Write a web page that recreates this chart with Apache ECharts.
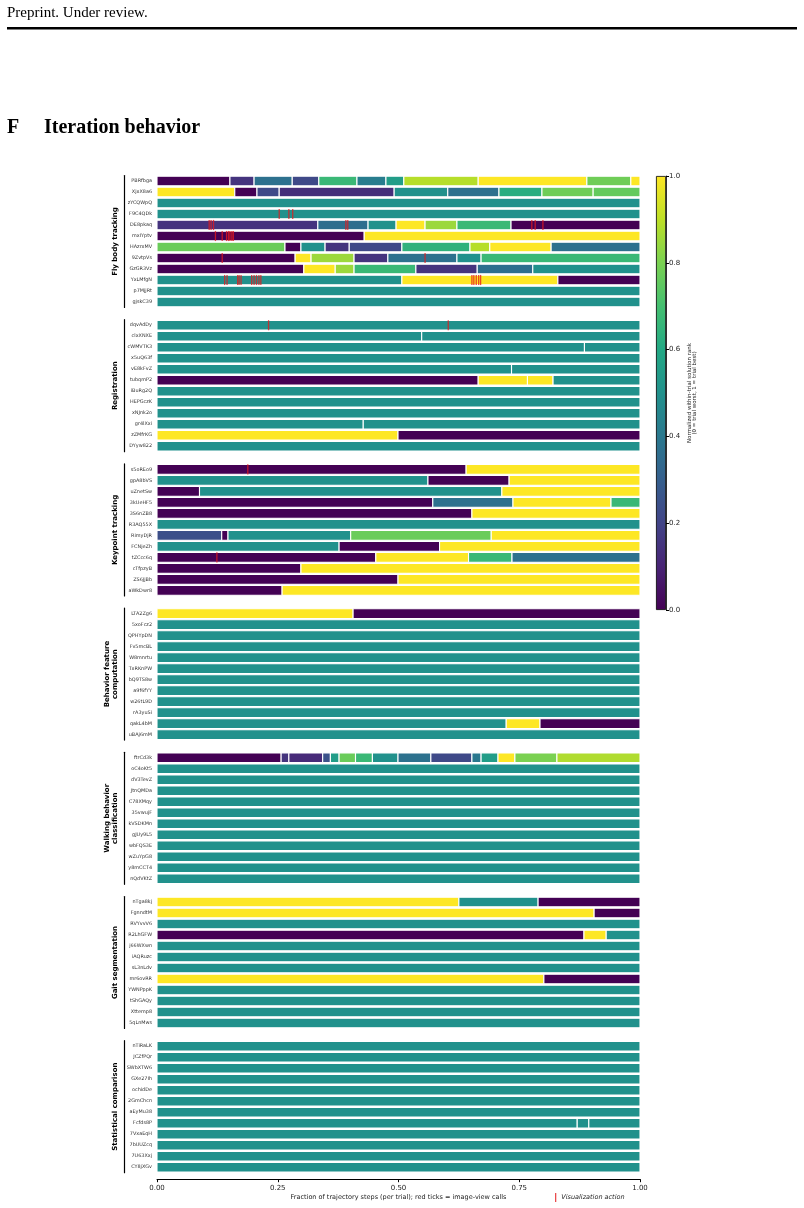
<!DOCTYPE html>
<html>
<head>
<meta charset="utf-8">
<script src="https://cdn.jsdelivr.net/npm/echarts@6/dist/echarts.min.js"></script>
<style>
html, body { margin: 0; padding: 0; background: #fff; }
#chart { width: 804px; height: 1208px; }
</style>
</head>
<body>
<div id="chart"></div>
<script>
// each row: list of [segment end fraction, normalized rank], segments start where the previous ended
const flyNames = ['PBRfbga', 'XjxX8a6', 'zYCQWpQ', 'F9C4QDk', 'DE8pkaq', 'mxIYptv', 'HAzrxMV', '9ZvtpVs', 'GzGR3Vz', 'YxLMfgN', 'p7MjjRt', 'gjskC39'];
const flySegs = [
  [[0.151, 0], [0.201, 0.15], [0.280, 0.37], [0.335, 0.22], [0.414, 0.67], [0.474, 0.42], [0.511, 0.55], [0.665, 0.89], [0.890, 1], [0.981, 0.78], [1, 1]],
  [[0.161, 1], [0.207, 0], [0.253, 0.22], [0.491, 0.13], [0.602, 0.5], [0.708, 0.37], [0.797, 0.62], [0.903, 0.78], [1, 0.76]],
  [[1, 0.5]],
  [[1, 0.5]],
  [[0.333, 0.15], [0.437, 0.36], [0.495, 0.5], [0.555, 1], [0.621, 0.85], [0.733, 0.67], [1, 0]],
  [[0.429, 0], [1, 1]],
  [[0.265, 0.77], [0.298, 0], [0.348, 0.5], [0.398, 0.15], [0.507, 0.22], [0.648, 0.64], [0.689, 0.89], [0.816, 1], [1, 0.37]],
  [[0.286, 0], [0.319, 1], [0.408, 0.85], [0.478, 0.15], [0.621, 0.37], [0.671, 0.5], [1, 0.67]],
  [[0.304, 0], [0.369, 1], [0.408, 0.85], [0.536, 0.67], [0.663, 0.15], [0.778, 0.36], [1, 0.5]],
  [[0.507, 0.5], [0.830, 1], [1, 0]],
  [[1, 0.5]],
  [[1, 0.5]]
];
const flyTicks = [[], [], [],
  [0.253, 0.273, 0.281],
  [0.108, 0.112, 0.117, 0.391, 0.395, 0.776, 0.783, 0.799],
  [0.121, 0.135, 0.144, 0.148, 0.151, 0.155, 0.158],
  [],
  [0.135, 0.555],
  [],
  [0.140, 0.145, 0.167, 0.170, 0.174, 0.196, 0.201, 0.206, 0.211, 0.215, 0.652, 0.656, 0.661, 0.666, 0.670],
  [], []];

const regNames = ['dqvAdDy', 'clxXNXE', 'cWMVTK3', 'x5uQ63f', 'vE8kFvZ', 'tubqmP2', 'iBuRg2Q', 'HEPGczK', 'xNJnk2o', 'gr4lXxi', 'zZMfrKG', 'DYyw822'];
const regSegs = [
  [[1, 0.5]],
  [[0.548, 0.5], [1, 0.5]],
  [[0.885, 0.5], [1, 0.5]],
  [[1, 0.5]],
  [[0.734, 0.5], [1, 0.5]],
  [[0.665, 0], [0.767, 1], [0.820, 1], [1, 0.5]],
  [[1, 0.5]],
  [[1, 0.5]],
  [[1, 0.5]],
  [[0.427, 0.5], [1, 0.5]],
  [[0.499, 1], [1, 0]],
  [[1, 0.5]]
];
const regTicks = [[0.231, 0.603], [], [], [], [], [], [], [], [], [], [], []];

const kptNames = ['s5oREo9', 'gpA8bVS', 'uZnetSw', '3kUeHF5', '3S6nZB8', 'R3AQ55X', 'RimyDjR', 'FCNjeZh', 'tZCcc6q', 'cTfpzyB', 'ZS6JjBb', 'aWkDwr8'];
const kptSegs = [
  [[0.640, 0], [1, 1]],
  [[0.561, 0.5], [0.729, 0], [1, 1]],
  [[0.088, 0], [0.714, 0.5], [1, 1]],
  [[0.571, 0], [0.737, 0.37], [0.940, 1], [1, 0.67]],
  [[0.652, 0], [1, 1]],
  [[1, 0.5]],
  [[0.134, 0.24], [0.147, 0], [0.401, 0.5], [0.692, 0.77], [1, 1]],
  [[0.377, 0.5], [0.585, 0], [1, 1]],
  [[0.453, 0], [0.645, 1], [0.735, 0.67], [1, 0.37]],
  [[0.298, 0], [1, 1]],
  [[0.499, 0], [1, 1]],
  [[0.259, 0], [1, 1]]
];
const kptTicks = [[0.188], [], [], [], [], [], [], [], [0.124], [], [], []];

const behNames = ['LTA2Zg6', '5xoFcz2', 'QPHYpDN', 'Fv5mcBL', 'W8mnrtu', 'TxRKnPW', 'bQ9TS8w', 'a9f6fYY', 'w26tL9D', 'rA3yuSi', 'qakL4bM', 'uBAj6mM'];
const behSegs = [
  [[0.406, 1], [1, 0]],
  [[1, 0.5]], [[1, 0.5]], [[1, 0.5]], [[1, 0.5]], [[1, 0.5]],
  [[1, 0.5]], [[1, 0.5]], [[1, 0.5]], [[1, 0.5]],
  [[0.723, 0.5], [0.793, 1], [1, 0]],
  [[1, 0.5]]
];
const behTicks = [[], [], [], [], [], [], [], [], [], [], [], []];

const walkNames = ['ftrCd3k', 'oC4oKt5', 'dV3TevZ', 'JtnQMDa', 'C78XMqy', '35vwujF', 'kVSDKMn', 'gJUy9L5', 'wbFQS3E', 'wZuYpG8', 'y8mCCT4', 'nQdVKtZ'];
const walkSegs = [
  [[0.257, 0], [0.273, 0.15], [0.343, 0.12], [0.359, 0.25], [0.377, 0.55], [0.411, 0.77], [0.446, 0.67], [0.499, 0.5], [0.567, 0.37], [0.652, 0.22], [0.671, 0.4], [0.706, 0.55], [0.741, 1], [0.828, 0.8], [1, 0.88]],
  [[1, 0.5]], [[1, 0.5]], [[1, 0.5]], [[1, 0.5]], [[1, 0.5]], [[1, 0.5]],
  [[1, 0.5]], [[1, 0.5]], [[1, 0.5]], [[1, 0.5]], [[1, 0.5]]
];
const walkTicks = [[], [], [], [], [], [], [], [], [], [], [], []];

const gaitNames = ['nTga8kj', 'FgnndtM', 'RVYvvV6', 'R2LhGFW', 'j66WXwn', 'iAQRuzc', 'sL3nLdv', 'mr6ovRR', 'YWNPppK', 'tShGAQy', 'Xttemp8', '5qLnMws'];
const gaitSegs = [
  [[0.625, 1], [0.789, 0.5], [1, 0]],
  [[0.905, 1], [1, 0]],
  [[1, 0.5]],
  [[0.884, 0], [0.930, 1], [1, 0.5]],
  [[1, 0.5]], [[1, 0.5]], [[1, 0.5]],
  [[0.801, 1], [1, 0]],
  [[1, 0.5]], [[1, 0.5]], [[1, 0.5]], [[1, 0.5]]
];
const gaitTicks = [[], [], [], [], [], [], [], [], [], [], [], []];

const statNames = ['nTiRaLK', 'JCZfPQr', 'SWbXTW6', 'GXe27Ih', 'ochidDe', '2GmChcn', 'aEyMu38', 'Fcfds8P', '7VxaEqH', '7bUUZcq', '7U63Xxj', 'CY8jXGv'];
const statSegs = [
  [[1, 0.5]], [[1, 0.5]], [[1, 0.5]], [[1, 0.5]], [[1, 0.5]], [[1, 0.5]], [[1, 0.5]],
  [[0.870, 0.5], [0.894, 0.5], [1, 0.5]],
  [[1, 0.5]], [[1, 0.5]], [[1, 0.5]], [[1, 0.5]]
];
const statTicks = [[], [], [], [], [], [], [], [], [], [], [], []];

const groupTitles = ['Fly body tracking', 'Registration', 'Keypoint tracking', 'Behavior feature\ncomputation', 'Walking behavior\nclassification', 'Gait segmentation', 'Statistical comparison'];
const cbTicks = [0, 0.2, 0.4, 0.6, 0.8, 1];

const groups = [
  [flyNames, flySegs, flyTicks],
  [regNames, regSegs, regTicks],
  [kptNames, kptSegs, kptTicks],
  [behNames, behSegs, behTicks],
  [walkNames, walkSegs, walkTicks],
  [gaitNames, gaitSegs, gaitTicks],
  [statNames, statSegs, statTicks]
];

const viridisStops = ['#440154', '#482475', '#414487', '#355f8d', '#2a788e', '#21918c', '#22a884', '#44bf70', '#7ad151', '#bddf26', '#fde725'];
function hex(c) { return [1, 3, 5].map(i => parseInt(c.substr(i, 2), 16)); }
function viridis(v) {
  const t = Math.max(0, Math.min(1, v)) * 10;
  const i = Math.min(9, Math.floor(t));
  const f = t - i;
  const a = hex(viridisStops[i]), b = hex(viridisStops[i + 1]);
  const c = a.map((x, k) => Math.round(x + (b[k] - x) * f));
  return 'rgb(' + c.join(',') + ')';
}

const font = 'DejaVu Sans';
const tickColor = 'rgba(228,26,28,0.78)';

function renderSeg(params, api) {
  const row = api.value(0);
  const a = api.coord([api.value(1), row]);
  const b = api.coord([api.value(2), row]);
  const h = api.size([0, 1])[1] * 0.88;
  return {
    type: 'rect',
    shape: { x: a[0], y: a[1] - h / 2, width: b[0] - a[0], height: h },
    style: { fill: viridis(api.value(3)), stroke: '#fff', lineWidth: 1.1 }
  };
}
function renderTick(params, api) {
  const p = api.coord([api.value(1), api.value(0)]);
  const h = api.size([0, 1])[1] * 0.92;
  return {
    type: 'line',
    shape: { x1: p[0], y1: p[1] - h / 2, x2: p[0], y2: p[1] + h / 2 },
    style: { stroke: tickColor, lineWidth: 1.3 }
  };
}

const grid = [], xAxis = [], yAxis = [], series = [];
groups.forEach(([names, segs, ticks], i) => {
  const last = i === groups.length - 1;
  grid.push({ left: 157, width: 483, top: 175.5 + 144.2 * i, height: 132 });
  xAxis.push({
    gridIndex: i, type: 'value', min: 0, max: 1, interval: 0.25, show: last,
    offset: 6.5,
    axisLine: { show: true, lineStyle: { color: '#000', width: 1 } },
    axisTick: { show: true, length: 3, lineStyle: { color: '#000' } },
    axisLabel: { fontFamily: font, fontSize: 7, color: '#222', margin: 5, formatter: v => v.toFixed(2) },
    splitLine: { show: false },
    name: last ? 'Fraction of trajectory steps (per trial); red ticks = image-view calls' : '',
    nameLocation: 'middle', nameGap: 15,
    nameTextStyle: { fontFamily: font, fontSize: 6.5, color: '#222' }
  });
  yAxis.push({
    gridIndex: i, type: 'category', data: names, inverse: true,
    axisLine: { show: false }, axisTick: { show: false },
    axisLabel: { interval: 0, fontFamily: font, fontSize: 4.9, color: '#333', margin: 5 }
  });
  yAxis.push({
    gridIndex: i, type: 'category', data: names, inverse: true, position: 'left', offset: 33,
    axisLine: { show: true, lineStyle: { color: '#000', width: 1.2 } },
    axisTick: { show: false }, axisLabel: { show: false },
    name: groupTitles[i], nameLocation: 'middle', nameRotate: 90, nameGap: 4.5,
    nameTextStyle: { fontFamily: font, fontSize: 7, fontWeight: 'bold', color: '#000', lineHeight: 8 }
  });
  const segData = [];
  segs.forEach((row, r) => {
    let start = 0;
    row.forEach(([end, v]) => { segData.push([r, start, end, v]); start = end; });
  });
  series.push({
    type: 'custom', xAxisIndex: i, yAxisIndex: 2 * i, renderItem: renderSeg,
    encode: { x: [1, 2], y: 0 }, data: segData, silent: true
  });
  const tickData = [];
  ticks.forEach((row, r) => row.forEach(x => tickData.push([r, x])));
  series.push({
    name: 'Visualization action', type: 'custom', xAxisIndex: i, yAxisIndex: 2 * i,
    renderItem: renderTick, encode: { x: 1, y: 0 }, data: tickData, silent: true, z: 5,
    itemStyle: { color: tickColor }
  });
});

// colorbar
const cbIndex = groups.length;
grid.push({ left: 656, width: 10, top: 176, height: 434 });
xAxis.push({ gridIndex: cbIndex, type: 'category', data: [''], show: false });
yAxis.push({
  gridIndex: cbIndex, type: 'value', min: cbTicks[0], max: cbTicks[cbTicks.length - 1], interval: 0.2, position: 'right',
  axisLine: { show: true, lineStyle: { color: '#000', width: 0.8 } },
  axisTick: { show: true, length: 3, lineStyle: { color: '#000' } },
  axisLabel: { fontFamily: font, fontSize: 7, color: '#222', margin: 3, formatter: v => v.toFixed(1) },
  splitLine: { show: false },
  name: 'Normalized within-trial solution rank\n(0 = trial worst, 1 = trial best)',
  nameLocation: 'middle', nameRotate: 90, nameGap: 21,
  nameTextStyle: { fontFamily: font, fontSize: 5.5, color: '#222', lineHeight: 5.2 }
});
series.push({
  type: 'bar', xAxisIndex: cbIndex, yAxisIndex: yAxis.length - 1, data: [1], barWidth: '100%', silent: true,
  itemStyle: {
    borderColor: '#000', borderWidth: 0.8,
    color: new echarts.graphic.LinearGradient(0, 1, 0, 0,
      viridisStops.map((c, k) => ({ offset: k / 10, color: c })))
  }
});

const chart = echarts.init(document.getElementById('chart'));
chart.setOption({
  animation: false,
  backgroundColor: '#fff',
  grid, xAxis, yAxis, series,
  legend: {
    data: ['Visualization action'], left: 555, top: 1193, padding: 0,
    icon: 'rect', itemWidth: 1.3, itemHeight: 9,
    textStyle: { fontFamily: font, fontSize: 6.5, fontStyle: 'italic', color: '#222' }
  },
  graphic: [
    { type: 'text', left: 7, top: 6, style: { text: 'Preprint. Under review.', font: '15px "Liberation Serif"', fill: '#000' } },
    { type: 'rect', left: 7, top: 27, shape: { width: 790, height: 2.5 }, style: { fill: '#000' } },
    { type: 'text', left: 7, top: 118, style: { text: 'F', font: 'bold 20px "Liberation Serif"', fill: '#000' } },
    { type: 'text', left: 44, top: 118, style: { text: 'Iteration behavior', font: 'bold 20px "Liberation Serif"', fill: '#000' } }
  ]
});
</script>
</body>
</html>
